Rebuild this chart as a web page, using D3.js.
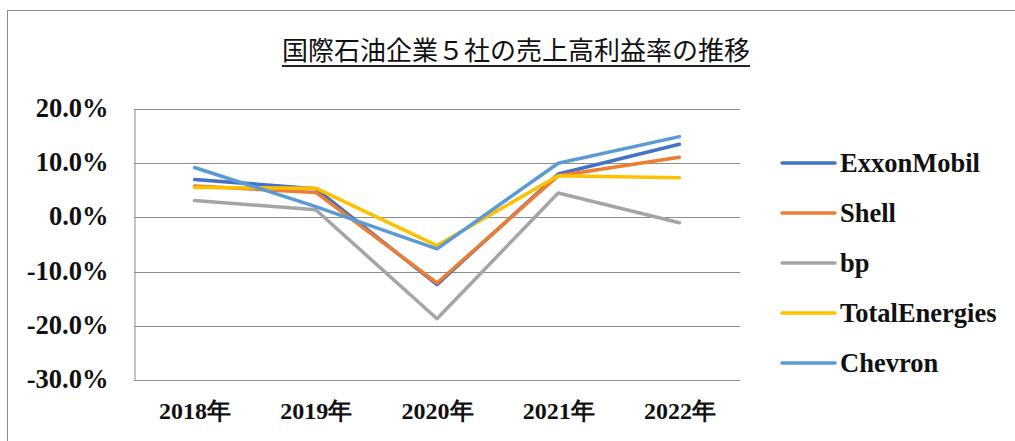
<!DOCTYPE html>
<html>
<head>
<meta charset="utf-8">
<script src="https://d3js.org/d3.v7.min.js"></script>
<style type="text/css">
  body{
    background: white;
    margin: 0px;
    overflow: hidden;
  }
  .tick text{
    font-family: 'Liberation Serif', serif;
    font-weight: bold;
    fill: #111;
  }
</style>
</head>
<body>

<svg id="chart" width="1015" height="441"></svg>

<script>

// data
var years = ['2018年', '2019年', '2020年', '2021年', '2022年'];
var companies = ['ExxonMobil', 'Shell', 'bp', 'TotalEnergies', 'Chevron'];
var exxonMobil    = [0.070, 0.053, -0.124, 0.080, 0.135];
var shell         = [0.058, 0.046, -0.121, 0.077, 0.111];
var bp            = [0.031, 0.014, -0.187, 0.045, -0.010];
var totalEnergies = [0.055, 0.054, -0.052, 0.077, 0.073];
var chevron       = [0.092, 0.020, -0.058, 0.100, 0.149];
var yTicks = [-0.3, -0.2, -0.1, 0, 0.1, 0.2];
var colors = ['#4472C4', '#ED7D31', '#A5A5A5', '#FFC000', '#5B9BD5'];

var series = [exxonMobil, shell, bp, totalEnergies, chevron];

var svg = d3.select('#chart');

// outer frame
svg.append('rect')
  .attr('x', 7.5)
  .attr('y', 10.5)
  .attr('width', 1100)
  .attr('height', 500)
  .attr('fill', 'none')
  .attr('stroke', '#8c8c8c')
  .attr('stroke-width', 1);

// title
var title = svg.append('text')
  .attr('x', 516)
  .attr('y', 60)
  .attr('text-anchor', 'middle')
  .style('font-family', "'Noto Sans CJK JP', sans-serif")
  .style('font-size', '26px')
  .style('fill', '#111')
  .text('国際石油企業５社の売上高利益率の推移');

var tb = title.node().getBBox();
svg.append('line')
  .attr('x1', tb.x)
  .attr('x2', tb.x + tb.width)
  .attr('y1', 66)
  .attr('y2', 66)
  .attr('stroke', '#222')
  .attr('stroke-width', 2);

var x = d3.scalePoint()
  .domain(years)
  .range([134, 740])
  .padding(0.5);

var y = d3.scaleLinear()
  .domain([-0.3, 0.2])
  .range([380, 109]);

var pct = d3.format('.1%');

// gridlines
svg.append('g')
  .selectAll('line')
  .data(yTicks)
  .enter()
  .append('line')
  .attr('x1', 134)
  .attr('x2', 740)
  .attr('y1', function(d) { return Math.round(y(d)) + 0.5; })
  .attr('y2', function(d) { return Math.round(y(d)) + 0.5; })
  .attr('stroke', '#8c8c8c')
  .attr('stroke-width', 1);

// y axis
var yAxis = svg.append('g')
  .attr('transform', 'translate(134.5,0)')
  .call(d3.axisLeft(y).tickValues(yTicks).tickSize(0).tickPadding(26)
    .tickFormat(function(d) { return pct(d).replace('−', '-'); }));
yAxis.select('.domain').attr('stroke', '#8c8c8c');
yAxis.selectAll('.tick text').style('font-size', '26.5px').attr('dy', '0.28em');

// x axis
var xAxis = svg.append('g')
  .attr('transform', 'translate(0,380)')
  .call(d3.axisBottom(x).tickSize(0).tickPadding(22));
xAxis.select('.domain').remove();
xAxis.selectAll('.tick text').style('font-size', '24px');

// lines
var line = d3.line()
  .x(function(d, i) { return x(years[i]); })
  .y(function(d) { return y(d); });

svg.append('g')
  .selectAll('path')
  .data(series)
  .enter()
  .append('path')
  .attr('d', line)
  .attr('fill', 'none')
  .attr('stroke', function(d, i) { return colors[i]; })
  .attr('stroke-width', 3.5)
  .attr('stroke-linejoin', 'round')
  .attr('stroke-linecap', 'round');

// legend
var legend = svg.append('g')
  .selectAll('g')
  .data(companies)
  .enter()
  .append('g')
  .attr('transform', function(d, i) { return 'translate(782,' + (163 + i * 50) + ')'; });

legend.append('line')
  .attr('x1', 0)
  .attr('x2', 53)
  .attr('stroke', function(d, i) { return colors[i]; })
  .attr('stroke-width', 3.5)
  .attr('stroke-linecap', 'round');

legend.append('text')
  .attr('x', 58)
  .attr('dy', '0.33em')
  .style('font-family', "'Liberation Serif', serif")
  .style('font-weight', 'bold')
  .style('font-size', '26.5px')
  .style('fill', '#111')
  .text(function(d) { return d; });

</script>

</body>
</html>
